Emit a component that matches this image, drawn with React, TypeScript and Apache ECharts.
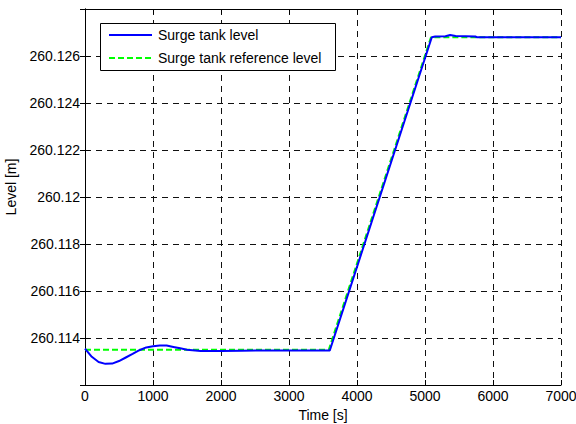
import React, { useEffect, useRef } from "react";
import * as echarts from "echarts";

const levelTime = [0, 100, 200, 300, 400, 500, 600, 700, 800, 900, 1000, 1100, 1200, 1300, 1400, 1500, 1700, 2000, 2300, 2600, 3000, 3600, 5100, 5150, 5300, 5370, 5450, 5740, 5760, 7000];
const levelValue = [260.11355, 260.1132, 260.11298, 260.1129, 260.11291, 260.11302, 260.11317, 260.11332, 260.11348, 260.1136, 260.11365, 260.11368, 260.11368, 260.11362, 260.11356, 260.1135, 260.11345, 260.11345, 260.11346, 260.11347, 260.11347, 260.11347, 260.1268, 260.12683, 260.12684, 260.12689, 260.12685, 260.12683, 260.1268, 260.1268];

const refTime = [0, 3585, 5088, 7000];
const refValue = [260.1135, 260.1135, 260.1268, 260.1268];

const xTicks = { min: 0, max: 7000, interval: 1000 };
const yTicks = { min: 260.112, max: 260.128, interval: 0.002 };

const seriesNames = ["Surge tank level", "Surge tank reference level"];

const FONT = "'Liberation Sans', Arial, sans-serif";
const FS = 14;

export default function App() {
  const ref = useRef<HTMLDivElement>(null);
  useEffect(() => {
    if (!ref.current) return;
    const chart = echarts.init(ref.current, null, { renderer: "svg" });
    const gridLine = { show: true, lineStyle: { color: "#111", type: [6, 5], width: 1 } };
    const axisLine = { show: true, lineStyle: { color: "#000", width: 1 } };
    const tick = { show: true, inside: true, length: 5, lineStyle: { color: "#000" } };
    const fmtY = (v: number) => String(Number(v.toFixed(3)));
    const fmtX = (v: number) => String(Math.round(v));
    const txt = { fontFamily: FONT, fontSize: FS, color: "#000" };
    chart.setOption({
      animation: false,
      textStyle: { fontFamily: FONT },
      grid: { left: 85, right: 15, top: 9, bottom: 39, containLabel: false, outerBoundsMode: "none" },
      xAxis: [
        {
          type: "value",
          ...xTicks,
          position: "bottom",
          name: "Time [s]",
          nameLocation: "middle",
          nameGap: 17,
          nameTextStyle: txt,
          axisLine,
          axisTick: tick,
          splitLine: gridLine,
          axisLabel: { ...txt, margin: 4, formatter: fmtX },
        },
        {
          type: "value",
          ...xTicks,
          position: "top",
          axisLine,
          axisTick: tick,
          splitLine: { show: false },
          axisLabel: { show: false },
        },
      ],
      yAxis: [
        {
          type: "value",
          ...yTicks,
          position: "left",
          name: "Level [m]",
          nameLocation: "middle",
          nameGap: 61,
          nameTextStyle: { ...txt, padding: [0, 0, 0, 20] },
          axisLine,
          axisTick: tick,
          splitLine: gridLine,
          axisLabel: { ...txt, margin: 5, showMinLabel: false, showMaxLabel: false, formatter: fmtY },
        },
        {
          type: "value",
          ...yTicks,
          position: "right",
          axisLine,
          axisTick: tick,
          splitLine: { show: false },
          axisLabel: { show: false },
        },
      ],
      graphic: [
        { type: "rect", z: 100, shape: { x: 100.5, y: 23.5, width: 235, height: 47 }, style: { fill: "#fff", stroke: "#000", lineWidth: 1 } },
        { type: "line", z: 101, shape: { x1: 109, y1: 35, x2: 152, y2: 35 }, style: { stroke: "#0000ff", lineWidth: 2 } },
        { type: "text", z: 101, x: 158, y: 35, style: { text: seriesNames[0], font: `${FS}px ${FONT}`, fill: "#000", verticalAlign: "middle" } },
        { type: "line", z: 101, shape: { x1: 109, y1: 58, x2: 152, y2: 58 }, style: { stroke: "#00ff00", lineWidth: 2, lineDash: [6, 3] } },
        { type: "text", z: 101, x: 158, y: 58, style: { text: seriesNames[1], font: `${FS}px ${FONT}`, fill: "#000", verticalAlign: "middle" } },
      ],
      series: [
        {
          name: seriesNames[1],
          type: "line",
          symbol: "none",
          data: refTime.map((t, i) => [t, refValue[i]]),
          lineStyle: { color: "#00ff00", width: 2, type: [6, 3] },
          z: 2,
        },
        {
          name: seriesNames[0],
          type: "line",
          symbol: "none",
          data: levelTime.map((t, i) => [t, levelValue[i]]),
          lineStyle: { color: "#0000ff", width: 2 },
          z: 3,
        },
      ],
    });
    return () => chart.dispose();
  }, []);
  return <div ref={ref} style={{ width: 576, height: 424, position: "absolute", left: 0, top: 0, background: "#fff" }} />;
}
